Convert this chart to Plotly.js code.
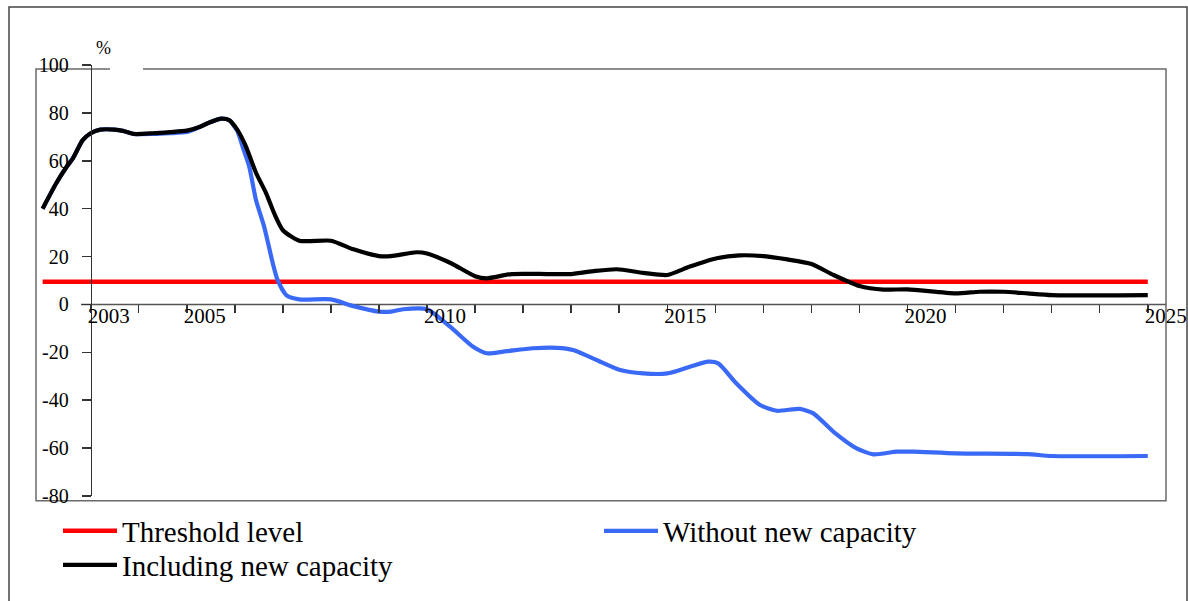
<!DOCTYPE html>
<html>
<head>
<meta charset="utf-8">
<script src="https://cdn.plot.ly/plotly-3.0.1.min.js"></script>
<style>html,body{margin:0;padding:0;background:#fff;}#chart{width:1188px;height:601px;}</style>
</head>
<body>
<div id="chart"></div>
<script>
// ---- data ----
const seriesNames = ["Threshold level", "Without new capacity", "Including new capacity"];

const thresholdYears  = [2002, 2025];
const thresholdValues = [9.5, 9.5];

const withoutYears = [2002.0, 2002.28, 2002.5, 2002.63, 2002.83, 2003.0, 2003.2, 2003.5, 2003.67, 2003.9,
  2004.3, 2004.65, 2005.0, 2005.25, 2005.47, 2005.72, 2005.88, 2006.05, 2006.16, 2006.3, 2006.44, 2006.61,
  2006.79, 2006.89, 2007.07, 2007.34, 2008.0, 2008.47, 2009.0, 2009.25, 2009.5, 2010.0, 2010.48, 2010.96,
  2011.24, 2011.66, 2012.2, 2012.7, 2013.04, 2013.53, 2014.02, 2014.5, 2015.0, 2015.47, 2015.85, 2016.06,
  2016.44, 2016.93, 2017.28, 2017.76, 2018.04, 2018.46, 2018.94, 2019.29, 2019.77, 2020.12, 2021.0,
  2022.5, 2023.0, 2025.0];
const withoutValues = [40, 50.5, 57.5, 61, 68.5, 71.5, 73, 73, 72.5, 71.2,
  71.2, 71.5, 72, 74, 76, 77.6, 77, 72.5, 66, 57.5, 43.6, 32.5,
  17.2, 10.2, 3.9, 2.1, 2.1, -0.7, -3.0, -3.0, -2.0, -2.0, -9.3, -17.7,
  -20.4, -19.5, -18.3, -18.1, -19.0, -23.2, -27.4, -28.8, -28.8, -26, -23.9, -24.6,
  -33, -42, -44.4, -43.6, -45.5, -53.2, -60.1, -62.6, -61.5, -61.5, -62.2,
  -62.5, -63.3, -63.3];

const includingYears = [2002.0, 2002.28, 2002.5, 2002.63, 2002.83, 2003.0, 2003.2, 2003.5, 2003.67, 2003.9,
  2004.3, 2004.65, 2005.0, 2005.25, 2005.47, 2005.72, 2005.88, 2006.05, 2006.23, 2006.44, 2006.65, 2006.82,
  2007.0, 2007.34, 2008.0, 2008.47, 2009.0, 2009.25, 2009.78, 2010.0, 2010.5, 2011.0, 2011.24, 2011.76,
  2012.5, 2013.0, 2013.5, 2013.95, 2014.5, 2015.0, 2015.47, 2016.03, 2016.5, 2017.0, 2017.5, 2018.0,
  2018.46, 2019.0, 2019.5, 2020.0, 2021.0, 2021.5, 2022.0, 2022.5, 2023.0, 2025.0];
const includingValues = [40, 50.5, 57.5, 61, 68.5, 71.5, 73, 73, 72.5, 71.2,
  71.5, 72, 72.6, 74, 76, 77.6, 77, 73, 66, 55, 46.5, 38,
  31, 26.6, 26.6, 23, 20.2, 20.2, 21.8, 21.3, 17.2, 11.8, 10.9, 12.7,
  12.7, 12.7, 14, 14.7, 13.2, 12.3, 15.8, 19.3, 20.5, 20.2, 18.8, 16.9,
  12.3, 7.7, 6.2, 6.3, 4.6, 5.3, 5.3, 4.6, 3.9, 3.9];

const yearTicks = [2003, 2004, 2005, 2006, 2007, 2008, 2009, 2010, 2011, 2012, 2013, 2014,
  2015, 2016, 2017, 2018, 2019, 2020, 2021, 2022, 2023, 2024, 2025];
const yearLabels = ["2003", "", "2005", "", "", "", "", "2010", "", "", "", "",
  "2015", "", "", "", "", "2020", "", "", "", "", "2025"];
const valueTicks = [-80, -60, -40, -20, 0, 20, 40, 60, 80, 100];
const valueLabels = ["-80", "-60", "-40", "-20", "0", "20", "40", "60", "80", "100"];
const unitLabel = "%";

// ---- layout helpers (pixel geometry of the plot area) ----
const W = 1188, H = 601;
const L = 36, R = 1166, T = 65, B = 496;
const px = v => (v - L) / (R - L);      // pixel x -> paper x
const py = v => (B - v) / (B - T);      // pixel y -> paper y
const cx = v => v / W;                  // pixel x -> container x
const cy = v => (H - v) / H;            // pixel y -> container y

const serif = "Liberation Serif, Times New Roman, serif";

const traces = [
  {x: thresholdYears, y: thresholdValues, name: seriesNames[0], mode: "lines",
   line: {color: "#ff0000", width: 4.5}, legend: "legend"},
  {x: withoutYears, y: withoutValues, name: seriesNames[1], mode: "lines",
   line: {color: "#3a6af5", width: 4.2, shape: "spline", smoothing: 0.6}, legend: "legend"},
  {x: includingYears, y: includingValues, name: seriesNames[2], mode: "lines",
   line: {color: "#000000", width: 4.2, shape: "spline", smoothing: 0.6}, legend: "legend2"}
];

const legendFont = {family: serif, size: 29, color: "#000"};
const itemW = 54;
const layout = {
  width: W, height: H,
  margin: {l: L, r: W - R, t: T, b: H - B, pad: 0},
  paper_bgcolor: "#ffffff", plot_bgcolor: "rgba(0,0,0,0)",
  font: {family: serif, color: "#000"},
  showlegend: true,
  legend: {
    orientation: "h", xref: "container", yref: "container",
    x: cx(58), xanchor: "left", y: cy(531), yanchor: "middle",
    entrywidth: 536 - itemW - 10, entrywidthmode: "pixels", itemwidth: itemW,
    font: legendFont, bgcolor: "rgba(0,0,0,0)", traceorder: "normal"
  },
  legend2: {
    orientation: "h", xref: "container", yref: "container",
    x: cx(58), xanchor: "left", y: cy(565), yanchor: "middle",
    itemwidth: itemW, font: legendFont, bgcolor: "rgba(0,0,0,0)"
  },
  xaxis: {
    range: [2001.862, 2025.379], showgrid: false, zeroline: false, showline: false,
    anchor: "free", position: 80 / 180,
    tickmode: "array", tickvals: yearTicks, ticktext: yearLabels,
    ticks: "outside", ticklen: 8, tickwidth: 1.5, tickcolor: "#333",
    ticklabelshift: 18, ticklabelstandoff: -16,
    tickfont: {family: serif, size: 21, color: "#000"}
  },
  yaxis: {
    range: [-80, 100], showgrid: false, zeroline: false,
    anchor: "free", position: px(90.7),
    showline: true, linecolor: "#333", linewidth: 1.5,
    tickmode: "array", tickvals: valueTicks, ticktext: valueLabels,
    ticks: "outside", ticklen: 9, tickwidth: 1.5, tickcolor: "#333",
    ticklabelstandoff: 9,
    tickfont: {family: serif, size: 20, color: "#000"}
  },
  shapes: [
    // outer frame
    {type: "path", xref: "paper", yref: "paper", layer: "below",
     path: `M${px(9)},${py(640)} L${px(9)},${py(7)} L${px(1187)},${py(7)} L${px(1187)},${py(640)}`,
     line: {color: "#444", width: 1.5}},
    // inner frame with a gap at the top for the unit label
    {type: "path", xref: "paper", yref: "paper", layer: "below",
     path: `M${px(110)},${py(69)} L${px(36)},${py(69)} L${px(36)},${py(500.7)} L${px(1166)},${py(500.7)} L${px(1166)},${py(69)} L${px(143)},${py(69)}`,
     line: {color: "#6a6a6a", width: 1.5}},
    // x axis line along zero
    {type: "line", xref: "paper", yref: "y", layer: "below",
     x0: px(81), x1: 1, y0: 0, y1: 0, line: {color: "#555", width: 1.5}}
  ],
  annotations: [
    {text: unitLabel, xref: "paper", yref: "paper", x: px(95), y: py(59),
     xanchor: "left", yanchor: "bottom", showarrow: false, borderpad: 0,
     font: {family: serif, size: 18, color: "#000"}}
  ]
};

Plotly.newPlot("chart", traces, layout, {staticPlot: true, displayModeBar: false});
</script>
</body>
</html>
